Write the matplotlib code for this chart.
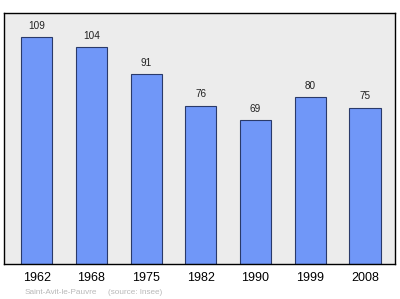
import matplotlib
matplotlib.use('Agg')
import matplotlib.pyplot as plt

plt.rcParams['font.family'] = ['Liberation Sans', 'DejaVu Sans']

years = ['1962', '1968', '1975', '1982', '1990', '1999', '2008']
population = [109, 104, 91, 76, 69, 80, 75]

fig = plt.figure(figsize=(4, 2.99), dpi=100)
ax = fig.add_axes([4 / 400, 1 - 264 / 299, 391 / 400, 251 / 299])
ax.set_facecolor('#ececec')

pos = list(range(len(years)))
ax.bar(pos, population, width=0.57, color='#7097f8', edgecolor='#2a3a6a', linewidth=0.8, zorder=2)
for x, v in zip(pos, population):
    ax.text(x, v + 4.0, str(v), ha='center', va='baseline', fontsize=7.2, color='#222222')

ax.set_xlim(-0.6, 6.55)
ax.set_ylim(0, 120.5)
ax.set_yticks([])
ax.set_xticks(pos)
ax.set_xticklabels(years, fontsize=9)
ax.tick_params(axis='x', length=0, pad=6)
for s in ax.spines.values():
    s.set_linewidth(1.0)

fig.text(25 / 400, 1 - 292 / 299, 'Saint-Avit-le-Pauvre', fontsize=5.9,
         color='#b8b8b8', va='center', ha='left')
fig.text(108 / 400, 1 - 292 / 299, '(source: Insee)', fontsize=5.9,
         color='#b8b8b8', va='center', ha='left')

fig.savefig('out.png', dpi=100)
